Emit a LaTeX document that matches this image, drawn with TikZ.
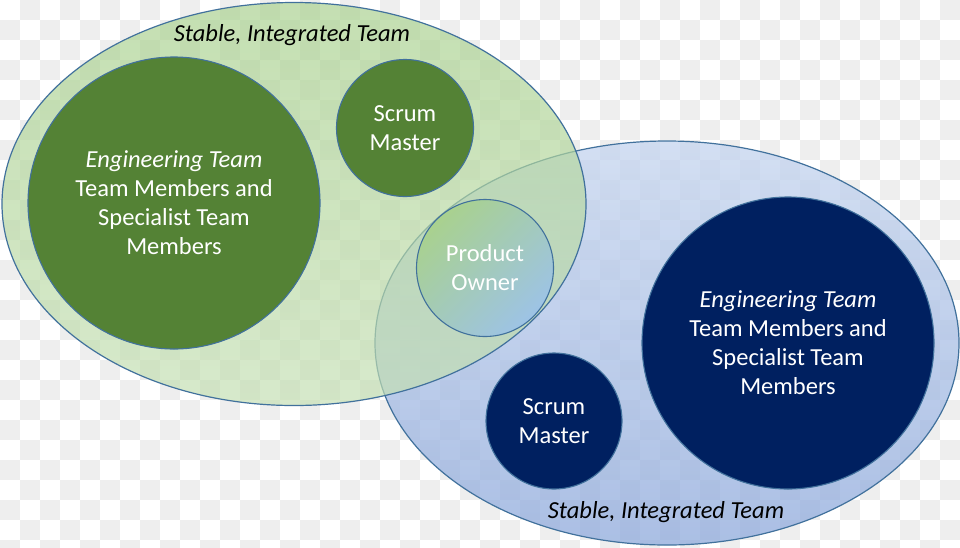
\documentclass[tikz,border=0pt]{standalone}
\usepackage{fontspec}
\setmainfont{Carlito}
\usetikzlibrary{shapes.geometric}
\definecolor{chk}{HTML}{EEEEEE}
\definecolor{outl}{HTML}{41719C}
\definecolor{darkgreen}{HTML}{548235}
\definecolor{navy}{HTML}{002060}
\definecolor{lgreen}{HTML}{A9D18E}
\definecolor{lgreenb}{HTML}{C5E0B4}
\definecolor{lblue}{HTML}{8FAADC}
\definecolor{lblueb}{HTML}{C5D5EF}
\definecolor{poblue}{HTML}{9DC3E6}
\tikzset{
  teamellipse/.style={ellipse, draw=outl, line width=1.2pt, inner sep=0pt},
  bigcircle/.style={circle, draw=outl, line width=1.1pt, minimum size=292pt, inner sep=0pt,
     align=center, text=white, font=\fontsize{24.5}{29}\selectfont},
  smallcircle/.style={circle, draw=outl, line width=1.1pt, minimum size=137pt, inner sep=0pt,
     align=center, text=white, font=\fontsize{24.5}{29}\selectfont},
  teamlabel/.style={font=\fontsize{24.5}{28}\selectfont\itshape, text=black, inner sep=0pt}
}
\begin{document}
\begin{tikzpicture}[x=1pt,y=-1pt]
\useasboundingbox (0,0) rectangle (960,547);
% transparency checkerboard background
\fill[white] (0,0) rectangle (960,547);
\foreach \i in {0,...,47} {
  \foreach \j in {0,...,27} {
    \pgfmathparse{int(mod(\i+\j,2))}
    \ifnum\pgfmathresult=1
      \fill[chk] (\i*20,\j*20) rectangle ++(20,20);
    \fi
  }
}
% team ellipses
\node[teamellipse, minimum width=584pt, minimum height=404pt, shade, top color=lblueb, bottom color=lblue, fill opacity=0.75] (blueteam) at (667,343) {};
\node[teamellipse, minimum width=584pt, minimum height=403pt, shade, top color=lgreen, bottom color=lgreenb, fill opacity=0.68] (greenteam) at (294,204) {};
% green team members
\node[bigcircle, fill=darkgreen] (geng) at (174,203) {\textit{Engineering Team}\\Team Members and\\Specialist Team\\Members};
\node[smallcircle, fill=darkgreen] (gsm) at (405,128) {Scrum\\Master};
% blue team members
\node[bigcircle, fill=navy] (beng) at (788,343) {\textit{Engineering Team}\\Team Members and\\Specialist Team\\Members};
\node[smallcircle, fill=navy, minimum size=136pt] (bsm) at (554,421) {Scrum\\Master};
% shared product owner
\node[smallcircle, shade, top color=lgreen, bottom color=poblue, shading angle=45] (po) at (485,268) {Product\\Owner};
% labels
\node[teamlabel] (glabel) at (292,35) {Stable, Integrated Team};
\node[teamlabel] (blabel) at (666,512) {Stable, Integrated Team};
\end{tikzpicture}
\end{document}
